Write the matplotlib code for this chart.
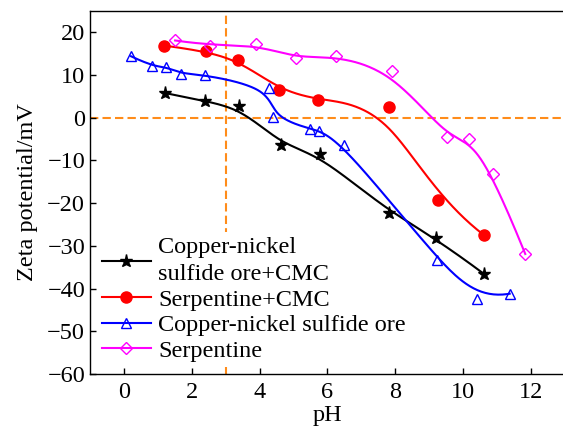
import numpy as np
import matplotlib
matplotlib.use("Agg")
import matplotlib.pyplot as plt

plt.rcParams['font.family'] = ['Liberation Serif', 'DejaVu Serif']
plt.rcParams['mathtext.fontset'] = 'stix'

# Data
cn_cmc_ph = [1.21, 2.39, 3.41, 4.62, 5.78, 7.82, 9.21, 10.61]
cn_cmc_zeta = [5.8, 3.9, 2.7, -6.3, -8.6, -22.3, -28.2, -36.5]

serp_cmc_ph = [1.19, 2.41, 3.38, 4.57, 5.74, 7.81, 9.26, 10.61]
serp_cmc_zeta = [16.9, 15.6, 13.6, 6.6, 4.1, 2.6, -19.2, -27.4]

cn_ph = [0.21, 0.82, 1.24, 1.68, 2.38, 4.28, 4.40, 5.49, 5.75, 6.50, 9.25, 10.42, 11.38]
cn_zeta = [14.4, 12.1, 12.0, 10.3, 10.1, 6.9, 0.2, -2.6, -3.0, -6.4, -33.3, -42.5, -41.2]

serp_ph = [1.51, 2.54, 3.89, 5.08, 6.26, 7.90, 9.53, 10.17, 10.88, 11.84]
serp_zeta = [18.1, 16.9, 17.3, 13.9, 14.5, 10.9, -4.6, -5.0, -13.1, -31.9]

labels = ["Copper-nickel\nsulfide ore+CMC", "Serpentine+CMC",
          "Copper-nickel sulfide ore", "Serpentine"]
x_ticks = [0, 2, 4, 6, 8, 10, 12]
y_ticks = [20, 10, 0, -10, -20, -30, -40, -50, -60]


def bspline_curve(xs, ys, k=3, num=400):
    """Clamped B-spline using data points as control points (Origin-style B-spline line)."""
    P = np.column_stack([xs, ys]).astype(float)
    n = len(P)
    t = np.concatenate([np.zeros(k), np.linspace(0, 1, n - k + 1), np.ones(k)])
    u = np.linspace(0, 1, num)
    u[-1] -= 1e-9
    N = np.array([((t[i] <= u) & (u < t[i + 1])).astype(float) for i in range(len(t) - 1)])
    for p in range(1, k + 1):
        newN = np.zeros((len(t) - 1 - p, num))
        for i in range(len(t) - 1 - p):
            a = np.zeros(num)
            d1 = t[i + p] - t[i]
            if d1 > 0:
                a += (u - t[i]) / d1 * N[i]
            d2 = t[i + p + 1] - t[i + 1]
            if d2 > 0:
                a += (t[i + p + 1] - u) / d2 * N[i + 1]
            newN[i] = a
        N = newN
    C = N.T @ P
    return C[:, 0], C[:, 1]


fig = plt.figure(figsize=(5.63, 4.32), dpi=100)
ax = fig.add_axes([90 / 563, 1 - 374 / 432, 474.6 / 563, 363 / 432])

orange = '#FF8C1A'
ax.axvline(3, color=orange, lw=1.5, dashes=(4, 2), zorder=1)
ax.axhline(0, color=orange, lw=1.5, dashes=(4, 2), zorder=1)

series = [
    (cn_cmc_ph, cn_cmc_zeta, 'black', dict(marker='*', ms=9.5, mfc='black', mec='black')),
    (serp_cmc_ph, serp_cmc_zeta, '#FF0000', dict(marker='o', ms=8, mfc='#FF0000', mec='#FF0000')),
    (cn_ph, cn_zeta, '#0000FF', dict(marker='^', ms=7, mfc='none', mec='#0000FF', mew=1.0)),
    (serp_ph, serp_zeta, '#FF00FF', dict(marker='D', ms=6, mfc='none', mec='#FF00FF', mew=1.0)),
]

handles = []
for (xs, ys, c, mk), lab in zip(series, labels):
    cx, cy = bspline_curve(xs, ys)
    ax.plot(cx, cy, color=c, lw=1.5, zorder=2)
    ax.plot(xs, ys, ls='none', zorder=3, **mk)
    h, = ax.plot([], [], color=c, lw=1.5, **mk)
    handles.append(h)

ax.set_xlim(-1, 13)
ax.set_ylim(-60, 25)
ax.set_xticks(x_ticks)
ax.set_yticks(y_ticks)
ax.tick_params(direction='in', length=4, width=1, labelsize=17.5, top=False, right=False)
ax.tick_params(axis='x', pad=6)
ax.spines['right'].set_visible(False)
for s in ['left', 'bottom', 'top']:
    ax.spines[s].set_linewidth(1.0)

ax.set_xlabel('pH', fontsize=17.5, labelpad=1)
ax.set_ylabel('Zeta potential/mV', fontsize=17.5, labelpad=7)

leg = ax.legend(handles, labels, loc='lower left', bbox_to_anchor=(0.0, 0.0),
                fontsize=17.5, frameon=True, facecolor='white', edgecolor='none',
                framealpha=1, handlelength=2.0, handletextpad=0.3,
                labelspacing=0.15, borderpad=0.2, borderaxespad=0.3)
leg.set_zorder(5)
for txt in leg.get_texts():
    txt.set_linespacing(1.35)

fig.savefig('out.png', dpi=100)
